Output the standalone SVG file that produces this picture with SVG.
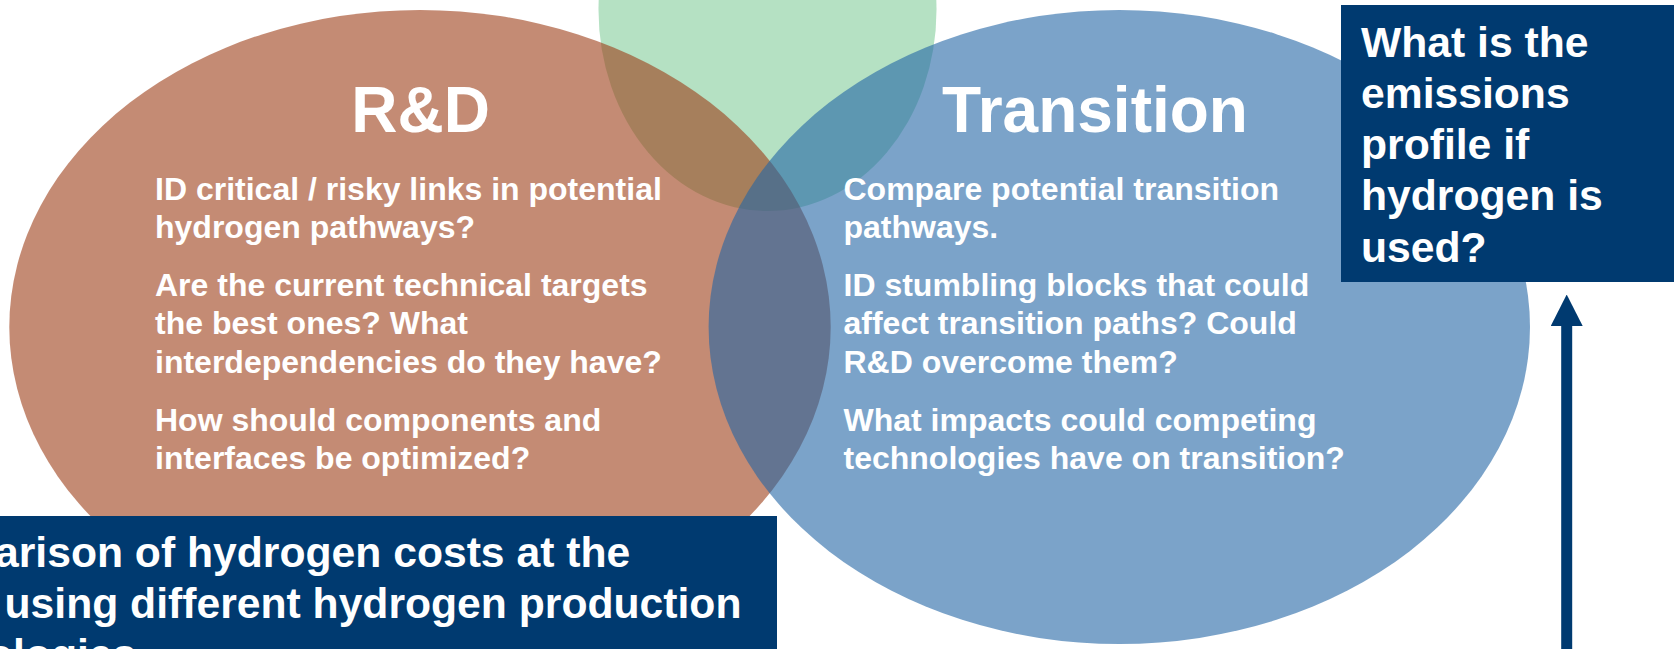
<svg xmlns="http://www.w3.org/2000/svg" width="1674" height="649" viewBox="0 0 1674 649">
<style>
.t{font-family:"Liberation Sans",Arial,sans-serif;font-weight:bold;fill:#ffffff}
.title{font-size:64px;text-anchor:middle}
.body{font-size:32px}
.box{font-size:42.67px}
.c{fill-opacity:0.6}
.navy{fill:#003A70}
</style>
<defs>
<marker id="ah" viewBox="0 0 31.5 32" refX="0" refY="16" markerWidth="31.5" markerHeight="32" markerUnits="userSpaceOnUse" orient="auto"><path d="M0,0 L31.5,16 L0,32 Z" fill="#003A70"/></marker>
</defs>
<rect width="1674" height="649" fill="#ffffff"/>
<g id="node-green">
<ellipse cx="767.5" cy="10" rx="169" ry="201" fill="#84CD9B" class="c"/>
</g>
<g id="node-rd">
<ellipse cx="420" cy="327" rx="410.7" ry="317" fill="#9D3E17" class="c"/>
<text class="t title" x="420.6" y="131.5">R&amp;D</text>
<text class="t body" x="155" y="200">ID critical / risky links in potential</text>
<text class="t body" x="155" y="238.4">hydrogen pathways?</text>
<text class="t body" x="155" y="296">Are the current technical targets</text>
<text class="t body" x="155" y="334.4">the best ones? What</text>
<text class="t body" x="155" y="372.8">interdependencies do they have?</text>
<text class="t body" x="155" y="431">How should components and</text>
<text class="t body" x="155" y="469.4">interfaces be optimized?</text>
</g>
<g id="node-transition">
<ellipse cx="1119.3" cy="327" rx="410.7" ry="317" fill="#2366A5" class="c"/>
<text class="t title" x="1095" y="131.5">Transition</text>
<text class="t body" x="843.5" y="200">Compare potential transition</text>
<text class="t body" x="843.5" y="238.4">pathways.</text>
<text class="t body" x="843.5" y="296">ID stumbling blocks that could</text>
<text class="t body" x="843.5" y="334.4">affect transition paths? Could</text>
<text class="t body" x="843.5" y="372.8">R&amp;D overcome them?</text>
<text class="t body" x="843.5" y="431">What impacts could competing</text>
<text class="t body" x="843.5" y="469.4">technologies have on transition?</text>
</g>
<g id="node-cost-box">
<rect class="navy" x="-10" y="516" width="787" height="145"/>
<text class="t box" x="-5" y="566.5">arison of hydrogen costs at the</text>
<text class="t box" x="4.5" y="617.7">using different hydrogen production</text>
<text class="t box" x="-13" y="668.9">ologies</text>
</g>
<g id="node-emissions-box">
<rect class="navy" x="1341" y="5" width="345" height="277"/>
<text class="t box" x="1361" y="56.5">What is the</text>
<text class="t box" x="1361" y="107.8">emissions</text>
<text class="t box" x="1361" y="159.1">profile if</text>
<text class="t box" x="1361" y="210.4">hydrogen is</text>
<text class="t box" x="1361" y="261.7">used?</text>
</g>
<g id="connectors">
<line x1="1566.7" y1="660" x2="1566.7" y2="326" stroke="#003A70" stroke-width="11" marker-end="url(#ah)"/>
</g>
</svg>
